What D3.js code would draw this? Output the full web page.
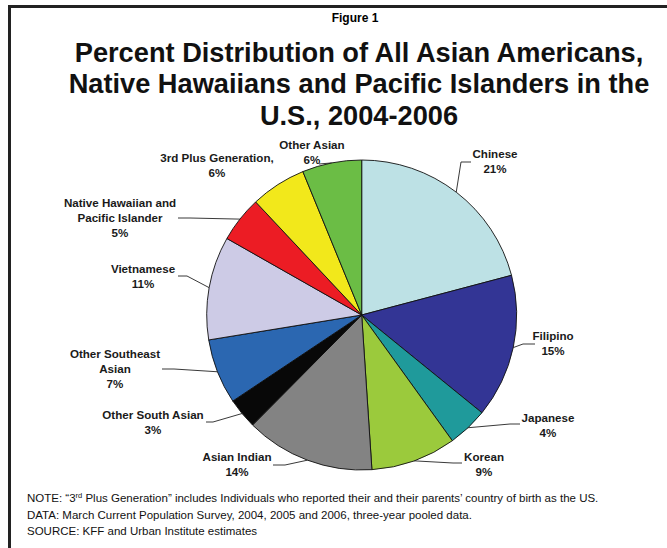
<!DOCTYPE html>
<html lang="en">
<head>
<meta charset="UTF-8" />
<title>Figure 1</title>
<script src="https://d3js.org/d3.v7.min.js"></script>
<style>
  body { margin: 0; background: #fff; }
  svg { display: block; font-family: "Liberation Sans", Arial, sans-serif; }
  .lbl { font-size: 11.6px; font-weight: bold; fill: #1a1a1a; }
  .note { font-size: 11.5px; fill: #111; }
</style>
</head>
<body>
<svg id="chart" width="667" height="548"></svg>
<script>
// data (percent of total)
const categories = ["Chinese", "Filipino", "Japanese", "Korean", "Asian Indian",
  "Other South Asian", "Other Southeast\nAsian", "Vietnamese",
  "Native Hawaiian and\nPacific Islander", "3rd Plus Generation,", "Other Asian"];
const values = [20.9, 15.0, 4.2, 8.9, 13.5, 3.2, 6.8, 10.8, 4.8, 5.8, 6.2];
const pctLabels = ["21%", "15%", "4%", "9%", "14%", "3%", "7%", "11%", "5%", "6%", "6%"];
const colors = ["#bde1e5", "#333595", "#1f9a9b", "#9bca3c", "#838383", "#080808",
  "#2b67b1", "#cdcbe6", "#ec1c24", "#f2e81b", "#6bbd45"];

// label placement: text centre / first baseline, then leader points (from the slice edge)
const labelLayout = [
  { t: [495, 158], pts: [[461, 162], [471, 162]] },
  { t: [553, 340], pts: [[523, 344], [535, 344]] },
  { t: [548, 422], pts: [[510, 424], [520, 424]] },
  { t: [484, 461], pts: [[453, 463], [462, 463]] },
  { t: [237, 461], pts: [[285, 465], [273, 465]] },
  { t: [153, 419], pts: [[213, 422], [206, 422]] },
  { t: [115, 358], pts: [[174, 369], [162, 369]] },
  { t: [143, 273], pts: [[187, 276], [178, 276]] },
  { t: [120, 207], pts: [[190, 218], [178, 218]] },
  { t: [217, 162], pts: [] },
  { t: [312, 149], pts: [[319, 164]] }
];

const svg = d3.select("#chart");

// frame (only top and left edges show)
svg.append("line").attr("x1", 9.5).attr("y1", 6.5).attr("x2", 667).attr("y2", 6.5)
  .attr("stroke", "#222").attr("stroke-width", 3);
svg.append("line").attr("x1", 9.5).attr("y1", 5).attr("x2", 9.5).attr("y2", 548)
  .attr("stroke", "#222").attr("stroke-width", 3);

// titles
svg.append("text").attr("x", 355).attr("y", 22).attr("text-anchor", "middle")
  .style("font-size", "12px").style("font-weight", "bold").text("Figure 1");
const titleLines = ["Percent Distribution of All Asian Americans,",
  "Native Hawaiians and Pacific Islanders in the", "U.S., 2004-2006"];
svg.append("g").attr("transform", "translate(359,0) scale(0.955,1)")
  .selectAll("text").data(titleLines).join("text")
  .attr("x", 0).attr("y", (d, i) => 62 + i * 31.5)
  .attr("text-anchor", "middle")
  .style("font-size", "28.5px").style("font-weight", "bold").style("fill", "#111")
  .text(d => d);

// pie
const cx = 361.7, cy = 315, r = 155;
const g = svg.append("g").attr("transform", `translate(${cx},${cy})`);
const pie = d3.pie().sort(null).value(d => d);
const arcs = pie(values);
const arc = d3.arc().innerRadius(0).outerRadius(r);
const edge = d3.arc().innerRadius(r).outerRadius(r);

g.selectAll("path").data(arcs).join("path")
  .attr("d", arc)
  .attr("fill", (d, i) => colors[i])
  .attr("stroke", "#111")
  .attr("stroke-width", 0.9);

// leader lines
const line = d3.line();
arcs.forEach((a, i) => {
  const lay = labelLayout[i];
  if (!lay.pts.length) return;
  const [ex, ey] = edge.centroid(a);
  const pts = [[ex + cx, ey + cy]].concat(lay.pts);
  svg.append("path").attr("d", line(pts))
    .attr("fill", "none").attr("stroke", "#222").attr("stroke-width", 0.9);
});

// labels
categories.forEach((c, i) => {
  const lay = labelLayout[i];
  const lines = c.split("\n").concat([pctLabels[i]]);
  const t = svg.append("text").attr("class", "lbl").attr("text-anchor", "middle");
  lines.forEach((s, k) => {
    t.append("tspan").attr("x", lay.t[0]).attr("y", lay.t[1] + k * 15).text(s);
  });
});

// notes
const notes = svg.append("g").attr("class", "note");
const n1 = notes.append("text").attr("x", 27).attr("y", 502);
n1.append("tspan").text("NOTE: \u201C3");
n1.append("tspan").attr("dy", -4).style("font-size", "7.5px").text("rd");
n1.append("tspan").attr("dy", 4).text(" Plus Generation\u201D includes Individuals who reported their and their parents\u2019 country of birth as the US.");
notes.append("text").attr("x", 27).attr("y", 519)
  .text("DATA: March Current Population Survey, 2004, 2005 and 2006, three-year pooled data.");
notes.append("text").attr("x", 27).attr("y", 535)
  .text("SOURCE: KFF and Urban Institute estimates");
</script>
</body>
</html>
